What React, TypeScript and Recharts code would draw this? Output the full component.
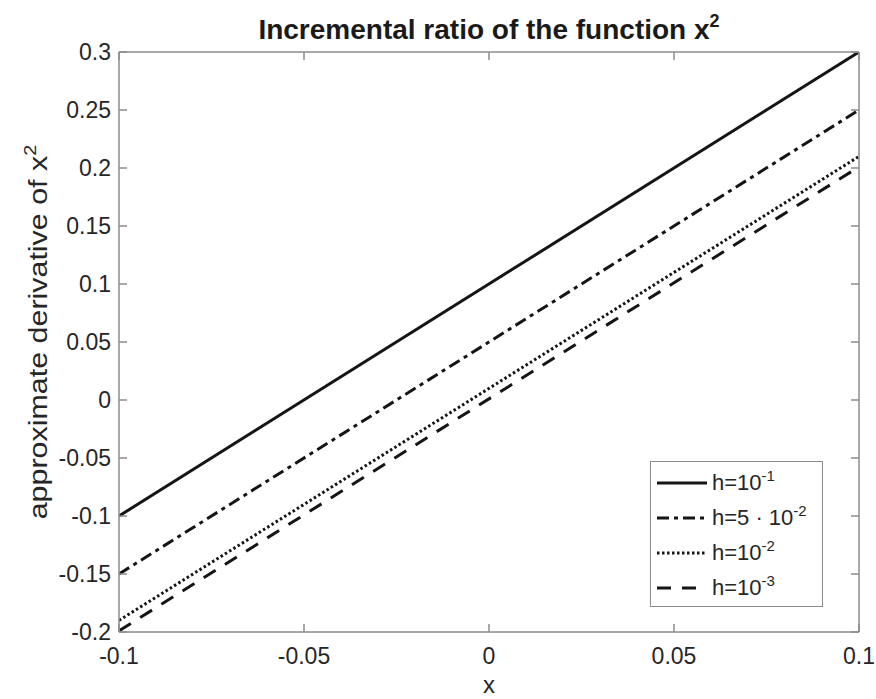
import React from 'react';
import { LineChart, Line, XAxis, YAxis } from 'recharts';

const xValues = [-0.1, 0.1];
const hTenth = [-0.1, 0.3];
const hFiveHundredth = [-0.15, 0.25];
const hHundredth = [-0.19, 0.21];
const hThousandth = [-0.199, 0.201];

const xTicks = [-0.1, -0.05, 0, 0.05, 0.1];
const yTicks = [-0.2, -0.15, -0.1, -0.05, 0, 0.05, 0.1, 0.15, 0.2, 0.25, 0.3];

const data = xValues.map((x, i) => ({
  x,
  h1: hTenth[i],
  h2: hFiveHundredth[i],
  h3: hHundredth[i],
  h4: hThousandth[i],
}));

const FONT = '"Liberation Sans", Arial, Helvetica, sans-serif';
const AXIS = '#8c8c8c';
const INK = '#151515';
const TEXT = '#262626';
const TICK_LEN = 8;
const TICK_FONT = 23;
const X_MARGIN = 16;
const Y_MARGIN = 8;

const Sup = ({ children, size, lift }: { children: React.ReactNode; size: number; lift: number }) => (
  <span style={{ fontSize: size, position: 'relative', top: -lift }}>{children}</span>
);

const series = [
  { key: 'h1', dash: undefined, label: <>h=10<Sup size={15} lift={9}>-1</Sup></> },
  { key: 'h2', dash: '12 5 4 5', label: <>h=5 · 10<Sup size={15} lift={9}>-2</Sup></> },
  { key: 'h3', dash: '2.5 2.5', label: <>h=10<Sup size={15} lift={9}>-2</Sup></> },
  { key: 'h4', dash: '14 11', label: <>h=10<Sup size={15} lift={9}>-3</Sup></> },
];

const fmt = (v: number) => (v === 0 ? '0' : String(Number(v.toFixed(2))));

const BottomTick = (props: any) => {
  const { x, y, payload } = props;
  const axisY = y - X_MARGIN;
  return (
    <g>
      <line x1={x} x2={x} y1={axisY} y2={axisY - TICK_LEN} stroke={AXIS} strokeWidth={1.5} />
      <text x={x} y={y} dy="0.71em" textAnchor="middle" fill={TEXT} fontSize={TICK_FONT} fontFamily={FONT}>
        {fmt(payload.value)}
      </text>
    </g>
  );
};

const LeftTick = (props: any) => {
  const { x, y, payload } = props;
  const axisX = x + Y_MARGIN;
  return (
    <g>
      <line x1={axisX} x2={axisX + TICK_LEN} y1={y} y2={y} stroke={AXIS} strokeWidth={1.5} />
      <text x={x} y={y} dy="0.36em" textAnchor="end" fill={TEXT} fontSize={TICK_FONT} fontFamily={FONT}>
        {fmt(payload.value)}
      </text>
    </g>
  );
};

const TopTick = (props: any) => {
  const { x, y } = props;
  return <line x1={x} x2={x} y1={y} y2={y + TICK_LEN} stroke={AXIS} strokeWidth={1.5} />;
};

const RightTick = (props: any) => {
  const { x, y } = props;
  return <line x1={x} x2={x - TICK_LEN} y1={y} y2={y} stroke={AXIS} strokeWidth={1.5} />;
};

export default function App() {
  return (
    <div style={{ position: 'absolute', left: 0, top: 0, width: 876, height: 699, background: '#fff', overflow: 'hidden' }}>
      <LineChart
        width={876}
        height={699}
        data={data}
        margin={{ top: 51, right: 16, bottom: 0, left: 0 }}
      >
        <XAxis
          dataKey="x"
          type="number"
          domain={[-0.1, 0.1]}
          ticks={xTicks}
          height={67}
          tickLine={false}
          tickSize={0}
          tickMargin={X_MARGIN}
          axisLine={{ stroke: AXIS, strokeWidth: 1.5 }}
          tick={<BottomTick />}
          allowDataOverflow
        />
        <XAxis
          xAxisId="top"
          orientation="top"
          dataKey="x"
          type="number"
          domain={[-0.1, 0.1]}
          ticks={xTicks}
          height={1}
          tickLine={false}
          tickSize={0}
          tickMargin={0}
          axisLine={{ stroke: AXIS, strokeWidth: 1.5 }}
          tick={<TopTick />}
          allowDataOverflow
        />
        <YAxis
          type="number"
          domain={[-0.2, 0.3]}
          ticks={yTicks}
          width={119}
          tickLine={false}
          tickSize={0}
          tickMargin={Y_MARGIN}
          axisLine={{ stroke: AXIS, strokeWidth: 1.5 }}
          tick={<LeftTick />}
          allowDataOverflow
        />
        <YAxis
          yAxisId="right"
          orientation="right"
          type="number"
          domain={[-0.2, 0.3]}
          ticks={yTicks}
          width={1}
          tickLine={false}
          tickSize={0}
          tickMargin={0}
          axisLine={{ stroke: AXIS, strokeWidth: 1.5 }}
          tick={<RightTick />}
          allowDataOverflow
        />
        {series.map((s) => (
          <Line
            key={s.key}
            dataKey={s.key}
            stroke={INK}
            strokeWidth={3}
            strokeDasharray={s.dash}
            dot={false}
            isAnimationActive={false}
          />
        ))}
      </LineChart>

      <div
        style={{
          position: 'absolute',
          left: 119,
          width: 740,
          top: 16,
          lineHeight: 1,
          textAlign: 'center',
          fontFamily: FONT,
          fontWeight: 'bold',
          fontSize: 28,
          color: '#1a1a1a',
          whiteSpace: 'nowrap',
        }}
      >
        Incremental ratio of the function x<Sup size={18} lift={12}>2</Sup>
      </div>

      <div
        style={{
          position: 'absolute',
          left: 38,
          top: 332,
          lineHeight: 1,
          transform: 'translate(-50%, -50%) rotate(-90deg) scaleX(1.17)',
          whiteSpace: 'nowrap',
          fontFamily: FONT,
          fontSize: 26,
          color: TEXT,
        }}
      >
        approximate derivative of x<Sup size={17} lift={11}>2</Sup>
      </div>

      <div
        style={{
          position: 'absolute',
          left: 119,
          width: 740,
          top: 673,
          lineHeight: 1,
          textAlign: 'center',
          fontFamily: FONT,
          fontSize: 24,
          color: TEXT,
        }}
      >
        x
      </div>

      <div
        style={{
          position: 'absolute',
          left: 650,
          top: 461,
          width: 173,
          height: 146,
          border: `1.5px solid ${AXIS}`,
          background: '#fff',
          boxSizing: 'border-box',
          padding: '3px 0 0 6px',
          fontFamily: FONT,
          fontSize: 22,
          color: TEXT,
        }}
      >
        {series.map((s) => (
          <div key={s.key} style={{ display: 'flex', alignItems: 'center', height: 35 }}>
            <svg width={50} height={10} style={{ marginRight: 5, flex: 'none' }}>
              <line x1={0} y1={5} x2={50} y2={5} stroke={INK} strokeWidth={3} strokeDasharray={s.dash} />
            </svg>
            <span style={{ lineHeight: 1, whiteSpace: 'nowrap' }}>{s.label}</span>
          </div>
        ))}
      </div>
    </div>
  );
}
